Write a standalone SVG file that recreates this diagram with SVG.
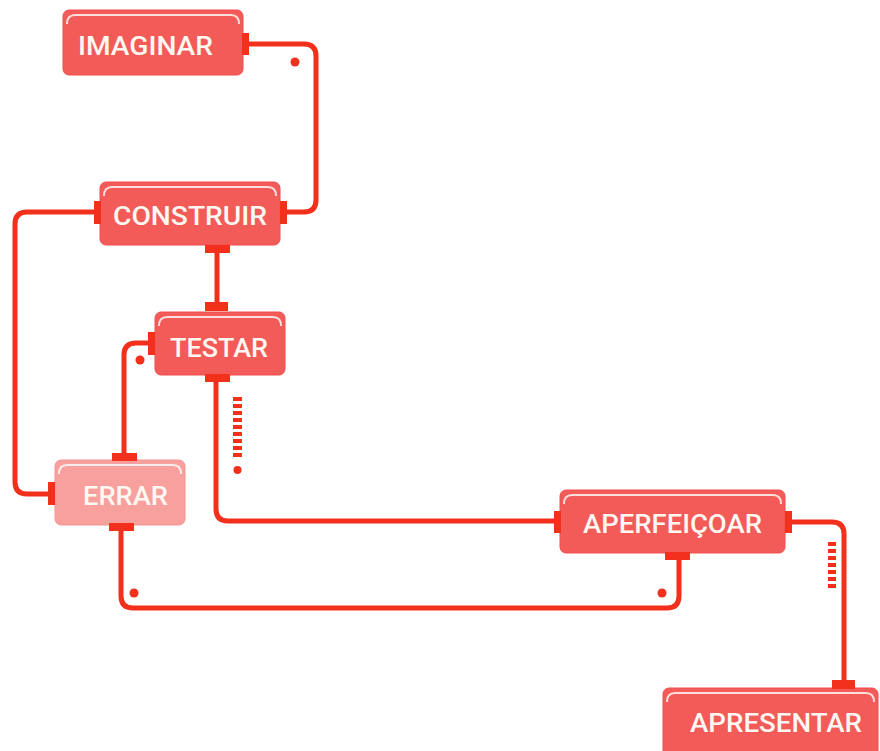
<svg xmlns="http://www.w3.org/2000/svg" width="880" height="751" viewBox="0 0 880 751">
<style>
.box{fill:#f35b58;stroke:#ef4f4c;stroke-width:1}
.light{fill:#f8a09e;stroke:#f59592}
.hl{fill:none;stroke:#ffffff;stroke-opacity:0.8;stroke-width:2}
.lbl{font-family:Roboto,"Liberation Sans",sans-serif;font-size:26px;font-weight:500;fill:#fff8f2}
.wire{fill:none;stroke:#f2301c;stroke-width:5;stroke-linecap:butt}
.plug{fill:#f2301c}
.dash{fill:#f2301c}
</style>
<rect width="880" height="751" fill="#ffffff"/>
<g id="connectors">
  <path class="wire" d="M248,44 H304 Q316,44 316,56 V200 Q316,212 304,212 H287"/>
  <circle class="plug" cx="295" cy="62" r="4.5"/>
  <path class="wire" d="M95,212 H27 Q15,212 15,224 V482 Q15,494 27,494 H49"/>
  <path class="wire" d="M217,253 V303"/>
  <path class="wire" d="M149,343 H136 Q124,343 124,355 V454"/>
  <circle class="plug" cx="140" cy="360" r="4.5"/>
  <path class="wire" d="M216,381 V509 Q216,521 228,521 H556"/>
  <g class="dash">
    <rect x="233" y="397" width="9" height="4"/>
    <rect x="233" y="404" width="9" height="4"/>
    <rect x="233" y="411" width="9" height="4"/>
    <rect x="233" y="418" width="9" height="4"/>
    <rect x="233" y="425" width="9" height="4"/>
    <rect x="233" y="432" width="9" height="4"/>
    <rect x="233" y="439" width="9" height="4"/>
    <rect x="233" y="446" width="9" height="4"/>
    <rect x="233" y="453" width="9" height="4"/>
    <circle cx="237.5" cy="470" r="4"/>
  </g>
  <path class="wire" d="M121,530 V596 Q121,608 133,608 H667 Q679,608 679,596 V559"/>
  <circle class="plug" cx="134" cy="593" r="4.5"/>
  <circle class="plug" cx="662" cy="593" r="4.5"/>
  <path class="wire" d="M791,522 H832 Q844,522 844,534 V681"/>
  <g class="dash">
    <rect x="828" y="542" width="8" height="4"/>
    <rect x="828" y="549" width="8" height="4"/>
    <rect x="828" y="556" width="8" height="4"/>
    <rect x="828" y="563" width="8" height="4"/>
    <rect x="828" y="570" width="8" height="4"/>
    <rect x="828" y="577" width="8" height="4"/>
    <rect x="828" y="584" width="8" height="4"/>
  </g>
</g>
<g id="imaginar">
  <rect class="box" x="63" y="10" width="180" height="65" rx="6"/>
  <path class="hl" d="M67,24 Q67,15 75,15 H231 Q239,15 239,24"/>
  <rect class="plug" x="242" y="33" width="7" height="22"/>
  <text class="lbl" x="78" y="55" textLength="135" lengthAdjust="spacingAndGlyphs">IMAGINAR</text>
</g>
<g id="construir">
  <rect class="box" x="100" y="182" width="180" height="63" rx="6"/>
  <path class="hl" d="M104,196 Q104,187 112,187 H268 Q276,187 276,196"/>
  <rect class="plug" x="94" y="201" width="7" height="23"/>
  <rect class="plug" x="280" y="201" width="7" height="23"/>
  <rect class="plug" x="205" y="245" width="25" height="8"/>
  <text class="lbl" x="113" y="225" textLength="154" lengthAdjust="spacingAndGlyphs">CONSTRUIR</text>
</g>
<g id="testar">
  <rect class="box" x="155" y="312" width="130" height="63" rx="6"/>
  <path class="hl" d="M159,326 Q159,317 167,317 H273 Q281,317 281,326"/>
  <rect class="plug" x="205" y="302" width="23" height="9"/>
  <rect class="plug" x="148" y="332" width="7" height="23"/>
  <rect class="plug" x="205" y="374" width="25" height="8"/>
  <text class="lbl" x="170" y="357" textLength="98" lengthAdjust="spacingAndGlyphs">TESTAR</text>
</g>
<g id="errar">
  <rect class="box light" x="55" y="460" width="130" height="65" rx="6"/>
  <path class="hl" d="M59,474 Q59,465 67,465 H173 Q181,465 181,474"/>
  <rect class="plug" x="112" y="453" width="25" height="8"/>
  <rect class="plug" x="48" y="482" width="7" height="23"/>
  <rect class="plug" x="109" y="523" width="25" height="8"/>
  <text class="lbl" x="83" y="505" textLength="85" lengthAdjust="spacingAndGlyphs">ERRAR</text>
</g>
<g id="aperfeicoar">
  <rect class="box" x="560" y="490" width="225" height="63" rx="6"/>
  <path class="hl" d="M564,504 Q564,495 572,495 H773 Q781,495 781,504"/>
  <rect class="plug" x="554" y="511" width="7" height="22"/>
  <rect class="plug" x="785" y="511" width="7" height="22"/>
  <rect class="plug" x="665" y="552" width="25" height="8"/>
  <text class="lbl" x="583" y="533" textLength="179" lengthAdjust="spacingAndGlyphs">APERFEIÇOAR</text>
</g>
<g id="apresentar">
  <rect class="box" x="663" y="688" width="215" height="75" rx="6"/>
  <path class="hl" d="M667,702 Q667,693 675,693 H866 Q874,693 874,702"/>
  <rect class="plug" x="832" y="680" width="23" height="9"/>
  <text class="lbl" x="690" y="732" textLength="172" lengthAdjust="spacingAndGlyphs">APRESENTAR</text>
</g>
</svg>
